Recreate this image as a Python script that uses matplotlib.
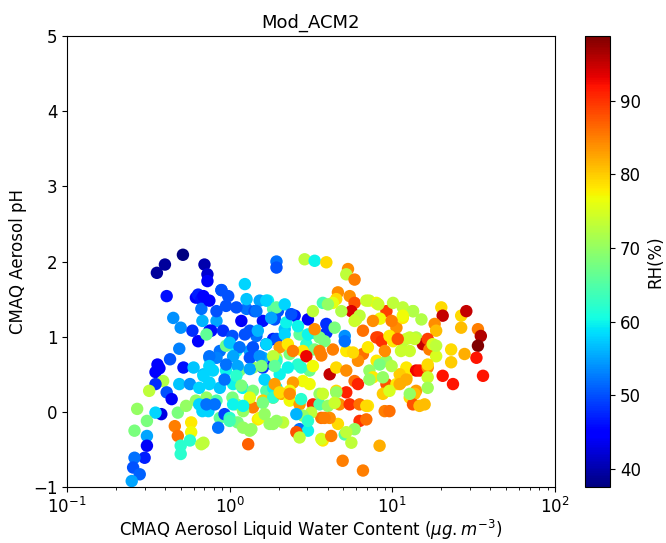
import matplotlib
matplotlib.use("Agg")
import matplotlib.pyplot as plt
import numpy as np

# aerosol liquid water content (ug/m3), pH, RH(%)
lwc = [0.516, 0.40, 0.357, 0.70, 0.73, 0.73, 0.41, 0.62, 0.64, 0.67, 0.89, 1.24, 1.94, 1.94,
       0.45, 0.50, 0.59, 0.64, 0.75, 0.68, 0.83, 0.49, 0.43, 0.35, 0.36, 0.37, 0.52, 0.39,
       0.35, 0.32, 0.41, 0.44, 0.38, 0.35, 0.27, 0.31, 0.26, 0.31, 0.31, 0.30, 0.26, 0.255,
       0.28, 0.25, 0.46, 0.48, 0.58, 0.58, 0.50, 0.50, 0.57, 0.67, 0.69, 1.30, 0.48, 0.54,
       0.62, 0.72, 0.74, 0.68, 0.87, 0.85, 0.93, 1.39, 1.49, 1.36, 1.10, 1.21,
       0.67, 0.83, 0.95, 0.77, 0.91, 1.04, 1.18, 1.27, 1.42, 1.60, 1.89, 1.53, 1.72, 1.85,
       1.24, 1.46, 1.68, 1.85, 0.87, 0.75, 0.83, 0.95, 1.10, 1.33, 1.60, 1.94, 0.60, 0.69,
       0.79, 0.95, 1.15, 1.39, 1.60, 1.85, 0.49, 0.57, 0.65, 0.75, 0.87, 1.05, 1.20, 1.39,
       1.68, 1.94, 0.65, 0.83, 1.04, 1.33, 1.60, 1.85, 1.00, 1.12, 1.53, 1.76, 1.33,
       2.89, 3.33, 3.93, 5.34, 5.21, 5.86, 4.63, 4.52, 5.47, 5.86, 5.60, 4.86, 3.74, 4.31,
       7.20, 7.98, 9.20, 10.1, 11.6, 13.4, 10.6, 8.40, 11.6, 6.00, 6.60, 7.98, 9.60, 12.8,
       14.0, 1.98, 1.89, 2.51, 3.03, 3.93, 3.93, 5.10, 2.18, 3.33, 2.69, 2.96, 4.31, 3.83,
       3.33, 5.21, 6.60, 6.15, 8.00, 9.20, 12.2, 14.0, 14.0, 12.8, 3.66, 2.82, 2.34, 1.94,
       2.03, 2.63, 3.10, 4.12, 4.52, 5.21, 5.86, 6.15, 7.23, 8.35, 9.20, 10.6, 7.60, 8.75,
       9.60, 5.21, 4.52, 3.57, 3.10, 2.82, 2.45, 2.34, 1.85, 1.85, 2.08, 2.34, 2.69, 3.25,
       3.57, 4.02, 4.73, 5.47, 6.29, 7.08, 8.98, 6.29, 6.92, 5.86, 5.10, 4.63, 4.12, 3.66,
       3.17, 2.82, 2.13, 1.85, 2.69, 3.03, 2.57, 2.69, 3.74, 3.66, 4.21, 5.60, 8.35, 4.95,
       6.60,
       20.0, 20.4, 26.5, 28.5, 26.5, 18.2, 18.6, 33.6, 35.0, 33.6, 32.9, 36.1, 23.0, 23.0,
       27.8, 20.4, 23.6, 15.4, 16.5, 16.9, 18.6, 17.7, 13.7, 12.2, 13.4, 15.1, 11.6, 14.7,
       16.5, 16.5, 16.5, 13.7, 13.4, 14.7, 15.8, 12.2, 11.1, 11.3, 12.8, 11.6]
ph = [2.09, 1.96, 1.85, 1.96, 1.83, 1.74, 1.54, 1.52, 1.56, 1.50, 1.62, 1.70, 2.00, 1.92,
      1.25, 1.12, 1.08, 0.94, 1.08, 1.21, 1.21, 0.84, 0.70, 0.53, 0.63, 0.58, 0.59, 0.41,
      0.37, 0.28, 0.26, 0.17, -0.03, -0.01, 0.04, -0.12, -0.25, -0.32, -0.45, -0.61, -0.61, -0.74,
      -0.83, -0.92, -0.19, -0.32, -0.14, -0.27, -0.45, -0.56, -0.38, -0.43, -0.41, -0.43, -0.01, 0.08,
      0.15, 0.19, 0.01, 0.01, -0.08, -0.21, -0.03, 0.06, -0.10, -0.23, 0.10, 0.01,
      1.37, 1.34, 1.41, 1.08, 1.08, 1.01, 1.21, 1.37, 1.34, 1.21, 1.25, 1.48, 1.48, 1.37,
      1.03, 1.01, 0.90, 0.97, 0.81, 0.72, 0.72, 0.88, 0.81, 0.81, 0.72, 0.72, 0.59, 0.50,
      0.55, 0.55, 0.55, 0.59, 0.59, 0.63, 0.37, 0.37, 0.32, 0.37, 0.32, 0.37, 0.32, 0.28,
      0.28, 0.32, 0.10, 0.15, 0.19, 0.19, 0.15, 0.19, -0.08, -0.14, -0.08, -0.16, -0.25,
      2.03, 2.01, 1.99, 1.90, 1.83, 1.76, 1.59, 1.50, 1.54, 1.45, 1.34, 1.34, 1.45, 1.45,
      1.48, 1.45, 1.34, 1.45, 1.39, 1.34, 1.12, 1.24, 1.25, 1.23, 1.08, 0.99, 0.99, 0.99,
      0.99, 1.34, 1.23, 1.28, 1.23, 1.17, 1.05, 1.01, 1.10, 1.05, 1.03, 0.90, 0.83, 0.94,
      0.83, 0.81, 0.77, 0.68, 0.68, 0.68, 0.59, 0.55, 0.28, 0.19, 0.75, 0.81, 0.77, 0.68,
      0.50, 0.63, 0.55, 0.50, 0.59, 0.55, 0.41, 0.37, 0.55, 0.63, 0.37, 0.37, 0.46, 0.24,
      0.28, 0.26, 0.28, 0.24, 0.37, 0.41, 0.39, 0.28, 0.32, 0.19, 0.24, 0.15, 0.10, 0.10,
      0.10, 0.08, 0.10, 0.10, 0.10, 0.08, 0.01, -0.12, -0.10, -0.23, -0.30, -0.16, -0.08, -0.08,
      -0.01, -0.05, -0.14, -0.16, -0.23, -0.25, -0.27, -0.34, -0.38, -0.36, -0.32, -0.41, -0.45, -0.65,
      -0.78,
      1.39, 1.28, 1.28, 1.34, 1.12, 1.17, 1.08, 1.10, 1.01, 0.88, 0.72, 0.48, 0.83, 0.66,
      0.77, 0.48, 0.37, 0.90, 0.97, 0.83, 0.74, 0.90, 0.97, 0.97, 1.34, 1.23, 1.28, 0.55,
      0.59, 0.46, 0.32, 0.24, 0.10, 0.08, 0.10, 0.46, 0.50, 0.39, 0.24, 0.83]
rh = [37.5, 39, 39, 40, 42, 44, 46, 45, 47, 46, 53, 58, 52, 50,
      54, 54, 48, 45, 47, 56, 55, 53, 50, 45, 45, 45, 46, 72,
      48, 73, 50, 44, 43, 58, 70, 68, 68, 55, 44, 47, 52, 50,
      51, 55, 85, 86, 78, 77, 62, 62, 62, 73, 73, 87, 68, 70,
      70, 70, 58, 58, 66, 52, 49, 85, 78, 70, 70, 70,
      52, 50, 50, 46, 48, 50, 44, 52, 50, 46, 48, 55, 60, 65,
      50, 52, 47, 47, 52, 55, 53, 67, 60, 55, 56, 72, 57, 57,
      58, 60, 68, 70, 48, 48, 57, 54, 58, 58, 57, 60, 60, 68,
      65, 60, 58, 65, 68, 76, 80, 80, 62, 68, 77, 70, 70,
      73, 60, 79, 84, 73, 85, 84, 79, 84, 88, 94, 72, 64, 76,
      74, 77, 89, 73, 73, 73, 84, 77, 78, 74, 86, 89, 79, 74,
      72, 50, 50, 47, 44, 48, 48, 54, 57, 60, 66, 62, 85, 68,
      68, 78, 86, 84, 78, 70, 78, 93, 83, 79, 85, 78, 68, 62,
      60, 62, 67, 95, 79, 84, 86, 91, 70, 68, 88, 78, 78, 80,
      75, 91, 79, 70, 77, 77, 83, 77, 60, 62, 82, 77, 83, 91,
      65, 70, 84, 90, 86, 78, 85, 90, 86, 70, 65, 79, 84, 86,
      73, 70, 73, 70, 52, 60, 88, 73, 78, 75, 85, 73, 82, 85,
      85,
      79, 95, 79, 95, 81, 84, 81, 85, 96, 98.8, 92, 92, 79, 80,
      82, 92, 92, 95, 89, 85, 75, 75, 74, 74, 72, 72, 77, 92,
      84, 74, 71, 81, 88, 81, 81, 78, 80, 80, 70, 73]

# extra points read from the dense middle of the cloud
lwc_dense = [0.89, 0.69, 0.75, 0.98, 1.10, 1.27, 1.46, 1.68, 1.94, 2.18, 1.80, 2.23, 2.39, 1.33, 1.49,
             1.94, 2.18, 1.00, 1.15, 1.39, 1.68, 2.03, 2.28, 2.45, 0.72, 0.75, 1.05, 1.33, 1.53, 1.85,
             4.02, 6.92, 8.20, 6.29, 7.60, 3.25, 5.10, 4.42, 5.86, 8.20, 8.60, 9.00, 7.08, 2.63, 3.03,
             3.57, 3.57, 5.73, 2.96, 3.33,
             9.90, 9.60, 10.1, 10.8, 12.8, 11.3, 18.6,
             0.75, 0.95, 1.12, 1.33, 1.57, 1.89, 2.28, 0.69, 0.75, 0.93, 1.10, 1.18, 1.64, 1.89, 2.03,
             2.34, 0.72, 0.81, 1.05, 1.21, 1.60, 1.64, 1.94, 1.00, 1.21,
             2.75, 3.25, 7.23, 8.75, 3.74, 4.52, 2.75, 4.42, 6.92, 2.57, 3.03, 3.83, 5.21,
             9.90, 16.5, 11.1, 12.2, 9.60]
ph_dense = [1.62, 1.54, 1.48, 1.54, 1.39, 1.50, 1.34, 1.48, 1.39, 1.43, 1.25, 1.19, 1.30, 1.08, 1.08,
            0.97, 1.03, 0.92, 0.86, 0.86, 0.90, 0.86, 0.90, 0.81, 1.03, 0.74, 0.74, 0.72, 0.74, 0.74,
            1.43, 1.48, 1.43, 1.28, 1.21, 1.34, 0.94, 1.12, 1.21, 0.99, 0.94, 0.81, 0.86, 1.14, 1.03,
            0.99, 0.81, 0.79, 0.74, 1.10,
            1.21, 1.01, 0.94, 0.97, 0.81, 0.81, 0.88,
            0.61, 0.63, 0.61, 0.57, 0.61, 0.61, 0.59, 0.48, 0.39, 0.43, 0.48, 0.35, 0.43, 0.37, 0.26,
            0.24, 0.10, 0.10, 0.10, 0.08, 0.12, -0.03, -0.12, -0.12, -0.21,
            0.59, 0.61, 0.43, 0.46, 0.24, 0.26, 0.17, 0.12, 0.08, -0.03, -0.12, -0.08, -0.27,
            0.61, 0.63, 0.37, 0.43, 0.01]
rh_dense = [50, 45, 45, 50, 50, 57, 52, 58, 66, 58, 55, 60, 50, 50, 56,
            50, 58, 57, 52, 50, 58, 83, 78, 85, 66, 52, 55, 50, 54, 73,
            70, 74, 74, 73, 84, 73, 52, 68, 74, 89, 90, 84, 78, 60, 60,
            68, 85, 79, 93, 84,
            85, 78, 78, 88, 74, 74, 73,
            58, 52, 55, 55, 68, 66, 60, 58, 58, 52, 62, 68, 58, 83, 79,
            84, 52, 52, 60, 60, 68, 70, 70, 64, 70,
            62, 77, 70, 70, 74, 70, 62, 74, 79, 56, 62, 85, 73,
            72, 79, 82, 82, 86]

x = lwc + lwc_dense
y = ph + ph_dense
c = rh + rh_dense

fig = plt.figure(figsize=(6.66, 5.43), dpi=100)
ax = fig.add_axes([0.1006, 0.103, 0.7327, 0.8307])
cax = fig.add_axes([0.878, 0.103, 0.038, 0.8307])

sc = ax.scatter(x, y, c=c, cmap='jet', s=80, linewidths=0)
ax.set_xscale('log')
ax.set_xlim(0.1, 100)
ax.set_ylim(-1, 5)
ax.set_title('Mod_ACM2', fontsize=13)
ax.set_xlabel(r'CMAQ Aerosol Liquid Water Content ($\mu g.m^{-3}$)', fontsize=12, labelpad=1)
ax.set_ylabel('CMAQ Aerosol pH', fontsize=12)
ax.tick_params(labelsize=12)

cb = fig.colorbar(sc, cax=cax)
cb.set_label('RH(%)', fontsize=12)
cb.ax.tick_params(labelsize=12)

fig.savefig('out.png', dpi=100)
